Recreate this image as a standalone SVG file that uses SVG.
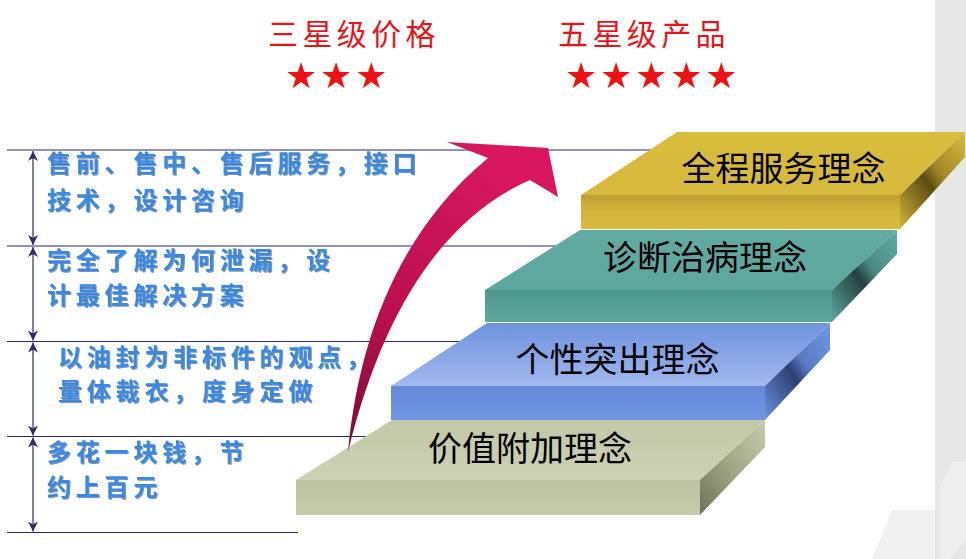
<svg xmlns="http://www.w3.org/2000/svg" width="966" height="559" viewBox="0 0 966 559">
<defs>
<style>
.title{font-family:"Noto Sans CJK SC","Noto Sans",sans-serif;font-size:30px;fill:#e8141b;letter-spacing:4.4px}
.stars{font-family:"DejaVu Sans",sans-serif;font-size:36px;fill:#ee1111;letter-spacing:2.8px}
.note{font-family:"Noto Sans CJK SC","Noto Sans",sans-serif;font-size:24px;font-weight:700;fill:#3b88e2;letter-spacing:4.8px;filter:url(#shadow)}
.step{font-family:"Noto Sans CJK SC","Noto Sans",sans-serif;font-size:34px;fill:#000;text-anchor:middle}
.hline{stroke:#2b2b66;stroke-width:1.2;fill:none}
.varrow{stroke:#2b2b66;stroke-width:1.2;fill:none;marker-start:url(#ah);marker-end:url(#ah)}
</style>
<filter id="shadow" x="-5%" y="-20%" width="110%" height="140%">
<feDropShadow dx="1" dy="1" stdDeviation="0.6" flood-color="#123a7a" flood-opacity="0.55"/>
</filter>
<marker id="ah" viewBox="0 0 10 10" refX="10" refY="5" markerWidth="10" markerHeight="10" markerUnits="userSpaceOnUse" orient="auto-start-reverse">
<path d="M0,0 L10,5 L0,10 L3,5 Z" fill="#2b2b66"/>
</marker>
<linearGradient id="arrowG" x1="0" y1="1" x2="0.6" y2="0">
<stop offset="0" stop-color="#7a0b35"/>
<stop offset="0.4" stop-color="#b8104c"/>
<stop offset="1" stop-color="#d8175f"/>
</linearGradient>
<linearGradient id="yTop" x1="0" y1="0" x2="0" y2="1"><stop offset="0" stop-color="#d9bd3c"/><stop offset="1" stop-color="#d6b93c"/></linearGradient>
<linearGradient id="yFront" x1="0" y1="0" x2="0" y2="1"><stop offset="0" stop-color="#bfa030"/><stop offset="0.5" stop-color="#d2b43a"/><stop offset="1" stop-color="#d8bb3e"/></linearGradient>
<linearGradient id="ySide" x1="0" y1="1" x2="1" y2="0"><stop offset="0" stop-color="#d2b43c"/><stop offset="0.45" stop-color="#5c4c12"/><stop offset="0.6" stop-color="#a08828"/><stop offset="1" stop-color="#d8bb3e"/></linearGradient>
<linearGradient id="tTop" x1="0" y1="0" x2="0" y2="1"><stop offset="0" stop-color="#62aba3"/><stop offset="1" stop-color="#5da69e"/></linearGradient>
<linearGradient id="tFront" x1="0" y1="0" x2="0" y2="1"><stop offset="0" stop-color="#4a958c"/><stop offset="0.5" stop-color="#57a198"/><stop offset="1" stop-color="#5ea79f"/></linearGradient>
<linearGradient id="tSide" x1="0" y1="1" x2="1" y2="0"><stop offset="0" stop-color="#5ea79f"/><stop offset="0.45" stop-color="#23413e"/><stop offset="0.6" stop-color="#4a8a84"/><stop offset="1" stop-color="#62aba3"/></linearGradient>
<linearGradient id="bTop" x1="0" y1="0" x2="0" y2="1"><stop offset="0" stop-color="#6f92de"/><stop offset="1" stop-color="#a1b8ee"/></linearGradient>
<linearGradient id="bFront" x1="0" y1="0" x2="0" y2="1"><stop offset="0" stop-color="#6689da"/><stop offset="1" stop-color="#7096e2"/></linearGradient>
<linearGradient id="bSide" x1="0" y1="1" x2="1" y2="0"><stop offset="0" stop-color="#6c92df"/><stop offset="0.45" stop-color="#2e3f70"/><stop offset="0.6" stop-color="#5a7cc6"/><stop offset="1" stop-color="#7096e2"/></linearGradient>
<linearGradient id="gTop" x1="0" y1="0" x2="0" y2="1"><stop offset="0" stop-color="#c3c8a8"/><stop offset="1" stop-color="#ccd1b4"/></linearGradient>
<linearGradient id="gFront" x1="0" y1="0" x2="0" y2="1"><stop offset="0" stop-color="#bcc19f"/><stop offset="1" stop-color="#c6cbab"/></linearGradient>
<linearGradient id="gSide" x1="0" y1="1" x2="1" y2="0"><stop offset="0" stop-color="#6e735a"/><stop offset="0.5" stop-color="#a2a785"/><stop offset="1" stop-color="#c6cbab"/></linearGradient>
</defs>
<rect x="0" y="0" width="966" height="559" fill="#ffffff"/>
<g id="background-band">
<rect x="935" y="0" width="31" height="559" fill="#e6e6e6"/>
<polygon points="892,510 935,510 935,559 872,559" fill="#f1f1f1"/>
<polygon points="952,462 966,462 966,540 950,559 940,559 940,488" fill="#eeeeee"/>
</g>
<g id="guide-lines">
<line class="hline" x1="7" y1="150" x2="652" y2="150"/>
<line class="hline" x1="7" y1="246" x2="556" y2="246"/>
<line class="hline" x1="7" y1="341.5" x2="460" y2="341.5"/>
<line class="hline" x1="7" y1="436.5" x2="366" y2="436.5"/>
<line class="hline" x1="7" y1="532.5" x2="298" y2="532.5"/>
</g>
<g id="connectors">
<line class="varrow" x1="33" y1="151" x2="33" y2="245"/>
<line class="varrow" x1="33" y1="247" x2="33" y2="340.5"/>
<line class="varrow" x1="33" y1="342.5" x2="33" y2="435.5"/>
<line class="varrow" x1="33" y1="437.5" x2="33" y2="531.5"/>
</g>
<g id="header-price">
<text class="title" x="268" y="45">三星级价格</text>
<text class="stars" x="285" y="87.5">★★★</text>
</g>
<g id="header-product">
<text class="title" x="558" y="45">五星级产品</text>
<text class="stars" x="565" y="87.5">★★★★★</text>
</g>
<g id="note-1">
<text class="note" x="47" y="172">售前、售中、售后服务，接口</text>
<text class="note" x="47" y="209">技术，设计咨询</text>
</g>
<g id="note-2">
<text class="note" x="47" y="269">完全了解为何泄漏，设</text>
<text class="note" x="47" y="304">计最佳解决方案</text>
</g>
<g id="note-3">
<text class="note" x="58" y="366">以油封为非标件的观点，</text>
<text class="note" x="58" y="400">量体裁衣，度身定做</text>
</g>
<g id="note-4">
<text class="note" x="47" y="461">多花一块钱，节</text>
<text class="note" x="47" y="496">约上百元</text>
</g>
<g id="step-1">
<polygon points="296,480 392,420 765,420 700,480" fill="url(#gTop)"/>
<polygon points="296,480 700,480 700,515 296,515" fill="url(#gFront)"/>
<polygon points="700,480 765,420 765,447 700,515" fill="url(#gSide)"/>
<text class="step" x="530" y="461">价值附加理念</text>
</g>
<g id="step-2">
<polygon points="391,386 487,323 830,323 765,386" fill="url(#bTop)"/>
<polygon points="391,386 765,386 765,420 391,420" fill="url(#bFront)"/>
<polygon points="765,386 830,323 830,350 765,420" fill="url(#bSide)"/>
<text class="step" x="617.5" y="372">个性突出理念</text>
</g>
<g id="step-3">
<polygon points="485,290 580,230 897,230 832,290" fill="url(#tTop)"/>
<polygon points="485,290 832,290 832,322 485,322" fill="url(#tFront)"/>
<polygon points="832,290 897,230 897,254 832,322" fill="url(#tSide)"/>
<text class="step" x="705" y="270">诊断治病理念</text>
</g>
<g id="step-4">
<polygon points="581,195 677,132 965,132 900,195" fill="url(#yTop)"/>
<polygon points="581,195 900,195 900,229 581,229" fill="url(#yFront)"/>
<polygon points="900,195 965,132 965,157 900,229" fill="url(#ySide)"/>
<text class="step" x="783.5" y="181">全程服务理念</text>
</g>
<g id="rising-arrow">
<path d="M348,452 C358,345 395,235 488,158 L447,142 L548,148 L558,197 L530,180 C450,215 385,300 348,452 Z" fill="url(#arrowG)"/>
</g>
</svg>
